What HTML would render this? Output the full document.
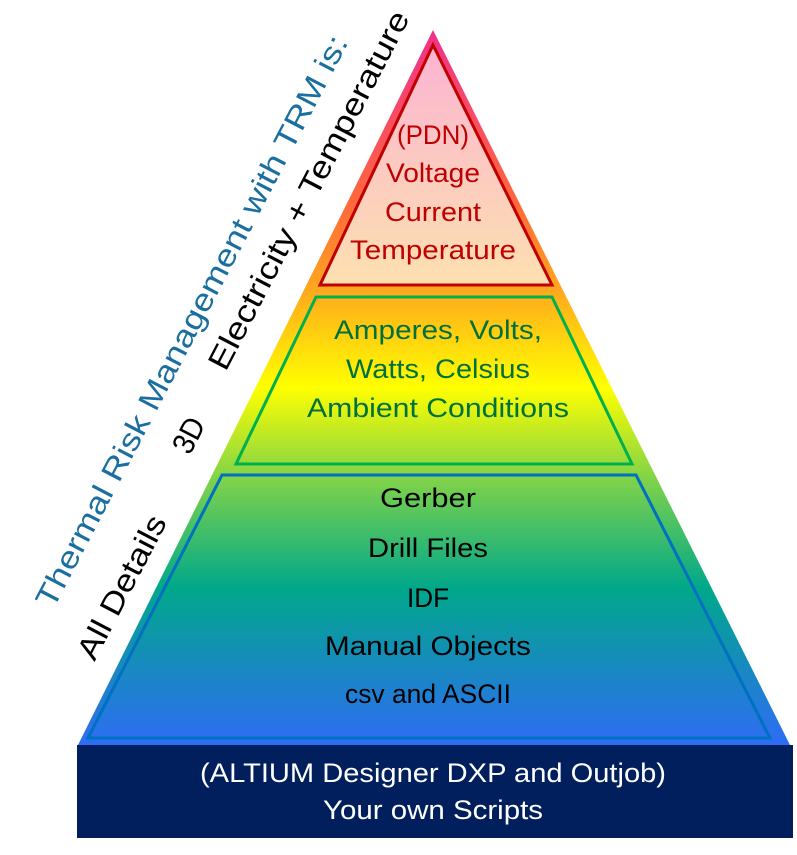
<!DOCTYPE html>
<html><head><meta charset="utf-8"><style>body{margin:0;background:#fff}svg{display:block}</style></head>
<body>
<svg width="797" height="855" viewBox="0 0 797 855" xmlns="http://www.w3.org/2000/svg" font-family="'Liberation Sans', sans-serif">
<defs>
<linearGradient id="g" x1="0" y1="30" x2="0" y2="745" gradientUnits="userSpaceOnUse">
<stop offset="0" stop-color="#f0308c"/>
<stop offset="0.25" stop-color="#ff6a3a"/>
<stop offset="0.36" stop-color="#ffa61e"/>
<stop offset="0.5" stop-color="#ffff00"/>
<stop offset="0.63" stop-color="#7ed24a"/>
<stop offset="0.78" stop-color="#00a88a"/>
<stop offset="1" stop-color="#2e6cf4"/>
</linearGradient>
<linearGradient id="t" x1="0" y1="45" x2="0" y2="285" gradientUnits="userSpaceOnUse">
<stop offset="0" stop-color="#fbb4d2"/>
<stop offset="1" stop-color="#fde0b0"/>
</linearGradient>
</defs>
<polygon points="433,30 790,745 78,745" fill="url(#g)"/>
<polygon points="433,45 552,285 320,285" fill="url(#t)" stroke="#c00000" stroke-width="3"/>
<polygon points="316,297 552,297 632,464 236,464" fill="none" stroke="#00b050" stroke-width="3"/>
<polygon points="222,475 636,475 770,738 88,738" fill="none" stroke="#0070c0" stroke-width="3"/>
<rect x="77" y="745" width="716" height="93" fill="#001f5c"/>
<g font-size="27" text-anchor="middle" fill="#c00000">
<text x="433" y="144" textLength="72" lengthAdjust="spacingAndGlyphs">(PDN)</text>
<text x="433" y="182" textLength="94" lengthAdjust="spacingAndGlyphs">Voltage</text>
<text x="433" y="221" textLength="96" lengthAdjust="spacingAndGlyphs">Current</text>
<text x="433" y="259" textLength="166" lengthAdjust="spacingAndGlyphs">Temperature</text>
</g>
<g font-size="27" text-anchor="middle" fill="#00703c">
<text x="438" y="339" textLength="208" lengthAdjust="spacingAndGlyphs">Amperes, Volts,</text>
<text x="438" y="378" textLength="184" lengthAdjust="spacingAndGlyphs">Watts, Celsius</text>
<text x="438" y="417" textLength="262" lengthAdjust="spacingAndGlyphs">Ambient Conditions</text>
</g>
<g font-size="27" text-anchor="middle" fill="#000">
<text x="428" y="507" textLength="96" lengthAdjust="spacingAndGlyphs">Gerber</text>
<text x="428" y="557" textLength="120" lengthAdjust="spacingAndGlyphs">Drill Files</text>
<text x="428" y="607" textLength="42" lengthAdjust="spacingAndGlyphs">IDF</text>
<text x="428" y="655" textLength="206" lengthAdjust="spacingAndGlyphs">Manual Objects</text>
<text x="428" y="703" textLength="166" lengthAdjust="spacingAndGlyphs">csv and ASCII</text>
</g>
<g font-size="27" text-anchor="middle" fill="#fff">
<text x="433" y="782" textLength="466" lengthAdjust="spacingAndGlyphs">(ALTIUM Designer DXP and Outjob)</text>
<text x="433" y="819" textLength="220" lengthAdjust="spacingAndGlyphs">Your own Scripts</text>
</g>
<g font-size="31" text-anchor="middle">
<text transform="translate(201,326) rotate(-62.5)" fill="#1a6fa0" textLength="640" lengthAdjust="spacingAndGlyphs">Thermal Risk Management with TRM is:</text>
<text transform="translate(318,195) rotate(-62.5)" fill="#000" textLength="400" lengthAdjust="spacingAndGlyphs">Electricity + Temperature</text>
<text transform="translate(198,440) rotate(-62.5)" fill="#000" textLength="36" lengthAdjust="spacingAndGlyphs">3D</text>
<text transform="translate(131,592) rotate(-62.5)" fill="#000" textLength="158" lengthAdjust="spacingAndGlyphs">All Details</text>
</g>
</svg>
</body></html>
